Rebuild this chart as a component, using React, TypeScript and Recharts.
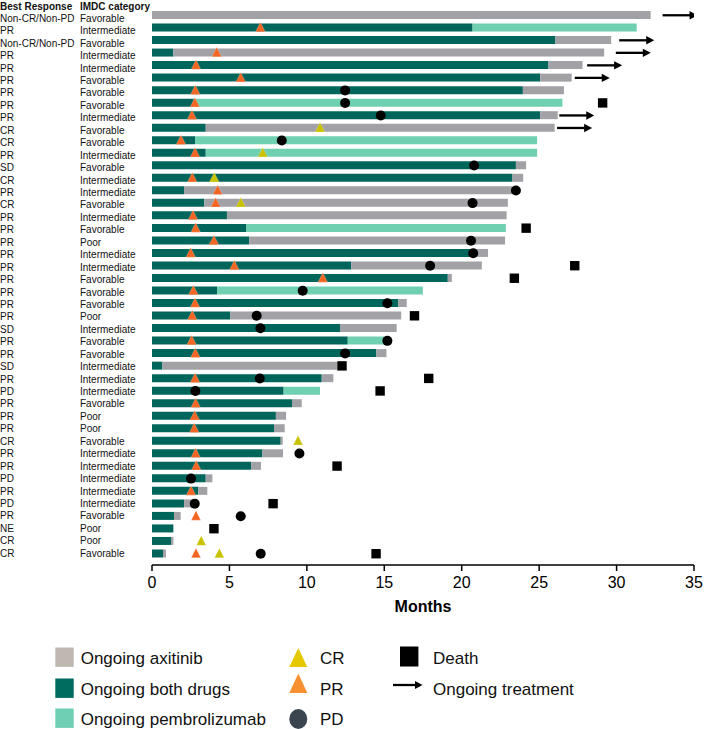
import React from 'react';
import { ComposedChart, Bar, Scatter, XAxis, YAxis } from 'recharts';

// one entry per patient, top to bottom
const bestResponse = [
  'Non-CR/Non-PD', 'PR', 'Non-CR/Non-PD', 'PR', 'PR', 'PR', 'PR', 'PR', 'PR', 'CR', 'CR',
  'PR', 'SD', 'CR', 'PR', 'CR', 'PR', 'PR', 'PR', 'PR', 'PR', 'PR',
  'PR', 'PR', 'PR', 'SD', 'PR', 'PR', 'SD', 'PR', 'PD', 'PR', 'PR',
  'PR', 'CR', 'PR', 'PR', 'PD', 'PR', 'PD', 'PR', 'NE', 'CR', 'CR',
];
const imdcCategory = [
  'Favorable', 'Intermediate', 'Favorable', 'Intermediate', 'Intermediate', 'Favorable', 'Favorable', 'Favorable', 'Intermediate', 'Favorable', 'Favorable',
  'Intermediate', 'Favorable', 'Intermediate', 'Intermediate', 'Favorable', 'Intermediate', 'Favorable', 'Poor', 'Intermediate', 'Intermediate', 'Favorable',
  'Favorable', 'Favorable', 'Poor', 'Intermediate', 'Favorable', 'Favorable', 'Intermediate', 'Intermediate', 'Intermediate', 'Favorable', 'Poor',
  'Poor', 'Favorable', 'Intermediate', 'Intermediate', 'Intermediate', 'Intermediate', 'Intermediate', 'Favorable', 'Poor', 'Poor', 'Favorable',
];
// months on both drugs
const bothDrugsMonths = [
  0, 20.7, 26.05, 1.38, 25.6, 25.07, 23.95, 2.7, 25.07, 3.47, 2.78,
  3.47, 23.5, 23.28, 2.07, 3.38, 4.84, 6.1, 6.27, 20.97, 12.86, 19.1,
  4.2, 15.9, 5.06, 12.14, 12.64, 14.49, 0.67, 10.96, 8.5, 9.04, 8.0,
  7.88, 8.31, 7.13, 6.4, 3.47, 2.99, 2.07, 1.42, 1.38, 1.23, 0.71,
];
// end of treatment, months
const totalMonths = [
  32.2, 31.3, 29.65, 29.2, 27.8, 27.1, 26.6, 26.5, 26.2, 26.0, 24.87,
  24.87, 24.16, 23.97, 23.3, 22.98, 22.9, 22.85, 22.8, 21.7, 21.3, 19.36,
  17.49, 16.45, 16.09, 15.8, 15.2, 15.14, 11.97, 11.71, 10.85, 9.67, 8.66,
  8.57, 8.44, 8.46, 7.04, 3.9, 3.57, 2.56, 1.85, 1.38, 1.38, 0.9,
];
// drug continued after stopping the other one: A = axitinib, P = pembrolizumab
const afterPhase = [
  'A', 'P', 'A', 'A', 'A', 'A', 'A', 'P', 'A', 'A', 'P',
  'P', 'A', 'A', 'A', 'A', 'A', 'P', 'A', 'A', 'A', 'A',
  'P', 'A', 'A', 'A', 'P', 'A', 'A', 'A', 'P', 'A', 'A',
  'A', 'A', 'A', 'A', 'A', 'A', 'A', 'A', 'A', 'A', 'A',
];
// events, row number -> month
const prAt: Record<number, number> = {
  2: 7.0, 4: 4.18, 5: 2.84, 6: 5.73, 7: 2.8, 8: 2.77, 9: 2.58, 11: 1.87, 12: 2.78, 14: 2.6,
  15: 4.24, 16: 4.11, 17: 2.65, 18: 2.82, 19: 4.0, 20: 2.5, 21: 5.32, 22: 11.03, 23: 2.67,
  24: 2.78, 25: 2.6, 27: 2.56, 28: 2.8, 30: 2.78, 32: 2.82, 33: 2.76, 34: 2.73, 36: 2.82,
  37: 2.86, 39: 2.52, 41: 2.84, 44: 2.84,
};
const crAt: Record<number, number> = { 10: 10.85, 12: 7.15, 14: 4.02, 16: 5.73, 35: 9.43, 43: 3.18, 44: 4.35 };
const pdAt: Record<number, number> = {
  7: 12.47, 8: 12.47, 9: 14.77, 11: 8.38, 13: 20.8, 15: 23.5, 16: 20.7, 19: 20.6, 20: 20.74,
  21: 17.96, 23: 9.73, 24: 15.2, 25: 6.76, 26: 7.0, 27: 15.2, 28: 12.47, 30: 6.96, 31: 2.8,
  36: 9.52, 38: 2.52, 40: 2.76, 41: 5.73, 44: 7.02,
};
const deathAt: Record<number, number> = {
  8: 29.1, 18: 24.16, 21: 27.3, 22: 23.4, 25: 16.95, 29: 12.27, 30: 17.87, 31: 14.73,
  37: 11.95, 40: 7.82, 42: 4.0, 44: 14.47,
};
const ongoingFrom: Record<number, number> = { 1: 32.97, 3: 30.17, 4: 29.95, 5: 28.1, 6: 27.3, 9: 26.3, 10: 26.16 };

const monthTicks = [0, 5, 10, 15, 20, 25, 30, 35];

const C_AXI = '#a1a1a6';
const C_BOTH = '#00665c';
const C_PEMBRO = '#6fcfb1';
const FONT = 'Arial, "Liberation Sans", Helvetica, sans-serif';

const data = bestResponse.map((_, i) => {
  const row = i + 1;
  const rest = +(totalMonths[i] - bothDrugsMonths[i]).toFixed(2);
  return {
    id: `pt${row}`,
    both: bothDrugsMonths[i],
    axitinib: afterPhase[i] === 'A' ? rest : 0,
    pembro: afterPhase[i] === 'P' ? rest : 0,
    pr: prAt[row] ?? null,
    cr: crAt[row] ?? null,
    pd: pdAt[row] ?? null,
    death: deathAt[row] ?? null,
    ongoing: ongoingFrom[row] ?? null,
  };
});

const ok = (p: any) => p && p.cx != null && p.cy != null && !isNaN(p.cx) && !isNaN(p.cy);

const triangle = (fill: string) => (p: any) =>
  ok(p) ? (
    <polygon
      points={`${p.cx},${p.cy - 5.5} ${p.cx - 4.8},${p.cy + 4} ${p.cx + 4.8},${p.cy + 4}`}
      fill={fill}
      stroke="#ffffff"
      strokeOpacity={0.35}
      strokeWidth={0.6}
    />
  ) : <g />;

const circle = (p: any) => (ok(p) ? <circle cx={p.cx} cy={p.cy} r={5} fill="#000" /> : <g />);

const square = (p: any) =>
  ok(p) ? <rect x={p.cx - 4.7} y={p.cy - 4.7} width={9.4} height={9.4} fill="#000" /> : <g />;

const arrow = (p: any) =>
  ok(p) ? (
    <g>
      <line x1={p.cx} y1={p.cy} x2={p.cx + 28} y2={p.cy} stroke="#000" strokeWidth={2.3} />
      <polygon points={`${p.cx + 35},${p.cy} ${p.cx + 27},${p.cy - 4.2} ${p.cx + 27},${p.cy + 4.2}`} fill="#000" />
    </g>
  ) : <g />;

const RowTick = ({ y, payload }: any) => {
  const idx = parseInt(String(payload.value).slice(2), 10) - 1;
  const dy = 6.5 - idx * 0.08;
  return (
    <g fontFamily={FONT} fontSize={10} fill="#111">
      <text x={0} y={y} dy={dy}>{bestResponse[idx]}</text>
      <text x={80} y={y} dy={dy}>{imdcCategory[idx]}</text>
    </g>
  );
};

export default function App() {
  return (
    <div style={{ position: 'absolute', left: 0, top: 0, width: 709, height: 729, background: '#fff', fontFamily: FONT }}>
      <ComposedChart
        width={709}
        height={620}
        data={data}
        layout="vertical"
        margin={{ top: 9, right: 15, left: 0, bottom: 0 }}
      >
        <XAxis
          type="number"
          domain={[0, 35]}
          ticks={monthTicks}
          allowDataOverflow
          height={55}
          axisLine={{ stroke: '#000', strokeWidth: 1.5 }}
          tickLine={{ stroke: '#000', strokeWidth: 1.5 }}
          tickSize={6}
          tickMargin={6}
          tick={{ fill: '#000', fontSize: 16, fontFamily: FONT }}
          label={{ value: 'Months', position: 'insideBottom', offset: 8, fill: '#000', fontSize: 16, fontWeight: 'bold', fontFamily: FONT }}
        />
        <YAxis
          type="category"
          dataKey="id"
          width={152}
          interval={0}
          axisLine={false}
          tickLine={false}
          padding={{ top: 0, bottom: 5 }}
          tick={<RowTick />}
        />
        <Bar dataKey="both" stackId="t" fill={C_BOTH} barSize={8} isAnimationActive={false} />
        <Bar dataKey="axitinib" stackId="t" fill={C_AXI} barSize={8} isAnimationActive={false} />
        <Bar dataKey="pembro" stackId="t" fill={C_PEMBRO} barSize={8} isAnimationActive={false} />
        <Scatter dataKey="ongoing" shape={arrow} isAnimationActive={false} />
        <Scatter dataKey="death" shape={square} isAnimationActive={false} />
        <Scatter dataKey="pd" shape={circle} isAnimationActive={false} />
        <Scatter dataKey="pr" shape={triangle('#f26522')} isAnimationActive={false} />
        <Scatter dataKey="cr" shape={triangle('#c9c200')} isAnimationActive={false} />
      </ComposedChart>

      <svg
        width={709}
        height={729}
        style={{ position: 'absolute', left: 0, top: 0, pointerEvents: 'none' }}
        fontFamily={FONT}
      >
        <g fontSize={10} fontWeight="bold" fill="#111">
          <text x={0} y={10}>Best Response</text>
          <text x={80} y={10}>IMDC category</text>
        </g>
        <g fontSize={17} fill="#111">
          <rect x={55.3} y={647.5} width={18.4} height={19.4} fill="#bfb8b0" />
          <text x={80.7} y={664}>Ongoing axitinib</text>
          <rect x={55.3} y={678.5} width={18.4} height={19.4} fill="#006b5f" />
          <text x={80.7} y={695}>Ongoing both drugs</text>
          <rect x={55.3} y={708.5} width={18.4} height={19.4} fill="#6fcfb4" />
          <text x={80.7} y={725}>Ongoing pembrolizumab</text>

          <polygon points="298.3,648 289.3,667 307.3,667" fill="#e6c800" />
          <text x={320} y={664}>CR</text>
          <polygon points="298.3,673.5 289.3,693 307.3,693" fill="#f7902f" />
          <text x={320} y={695}>PR</text>
          <ellipse cx={298.3} cy={719} rx={9} ry={10} fill="#3a4550" />
          <text x={320} y={725}>PD</text>

          <rect x={400} y={646.5} width={18.4} height={20} fill="#000" />
          <text x={433} y={664}>Death</text>
          <line x1={393} y1={685} x2={416} y2={685} stroke="#000" strokeWidth={2.3} />
          <polygon points="422.5,685 415,681 415,689" fill="#000" />
          <text x={433} y={695}>Ongoing treatment</text>
        </g>
      </svg>
    </div>
  );
}
